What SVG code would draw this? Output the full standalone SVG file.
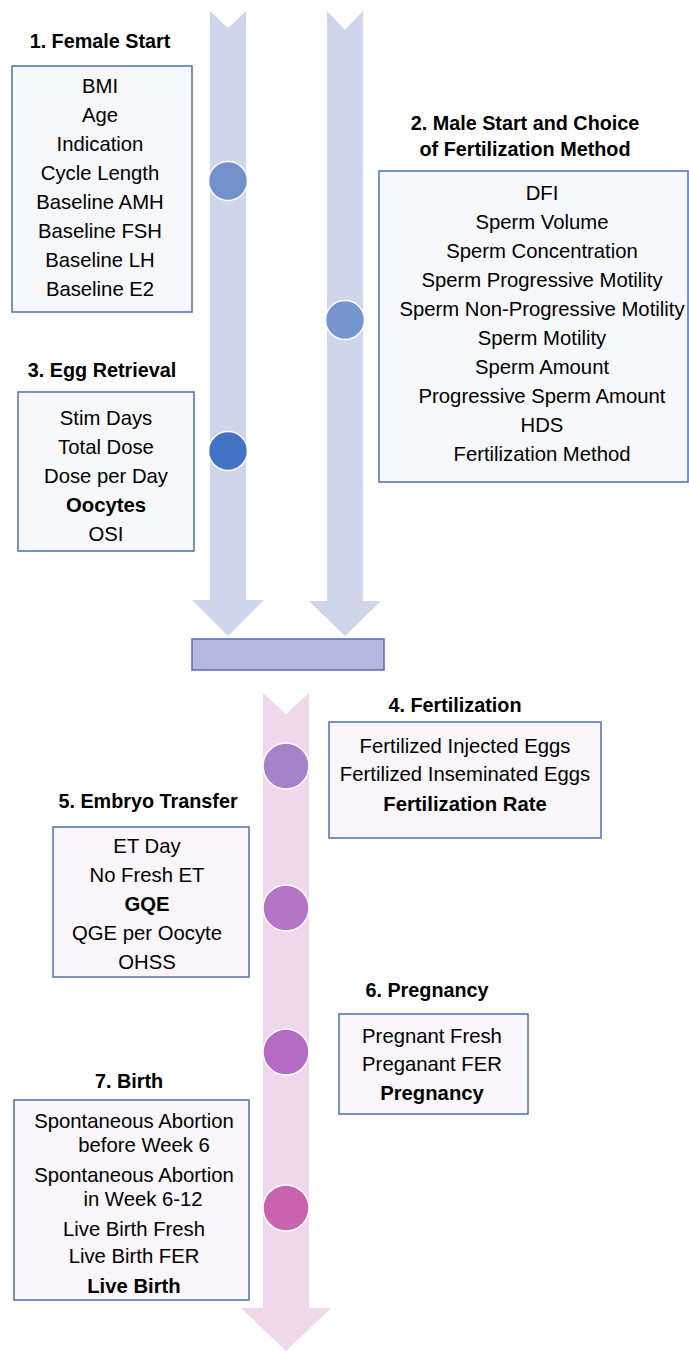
<svg xmlns="http://www.w3.org/2000/svg" width="689" height="1351" viewBox="0 0 689 1351">
<style>
.t{font-family:"Liberation Sans",Arial,sans-serif;font-size:20.3px;fill:#000;text-anchor:middle}
.b{font-weight:bold}
.h{font-family:"Liberation Sans",Arial,sans-serif;font-size:19.8px;font-weight:bold;fill:#000;text-anchor:middle}
.boxb{fill:#f6f8fc;stroke:#4f6fad;stroke-width:1.5}
.boxp{fill:#faf6fb;stroke:#4f6fad;stroke-width:1.5}
.dot{stroke:#fff;stroke-width:1.5}
.ab{fill:#cfd5ea}
.ap{fill:#f0d8ec}
</style>
<g id="connectors">
<path class="ab" d="M210,11 L228,28 L246,11 L246,600 L264,600 L228,636 L192,600 L210,600 Z"/>
<path class="ab" d="M327,11 L345,30 L363,11 L363,601 L381,601 L345,636 L309,601 L327,601 Z"/>
<rect x="192" y="639" width="192" height="31" fill="#b4b7df" stroke="#5a6cb0" stroke-width="1.5"/>
<path class="ap" d="M263,693 L286,714 L309,693 L309,1308 L331,1308 L286,1351 L241,1308 L263,1308 Z"/>
</g>
<g id="dots">
<circle class="dot" cx="228" cy="181" r="19.5" fill="#7290cc"/>
<circle class="dot" cx="345" cy="320" r="19.5" fill="#7595cc"/>
<circle class="dot" cx="228" cy="451" r="19.5" fill="#4472c4"/>
<circle class="dot" cx="286" cy="766" r="23" fill="#a683c9"/>
<circle class="dot" cx="286" cy="908" r="23" fill="#b574c6"/>
<circle class="dot" cx="286" cy="1052" r="23" fill="#b36cc2"/>
<circle class="dot" cx="286" cy="1208" r="23" fill="#c963b0"/>
</g>
<g id="female-start">
<text class="h" x="100" y="48">1. Female Start</text>
<rect class="boxb" x="12" y="66" width="180" height="246"/>
<text class="t" x="100" y="93">BMI</text>
<text class="t" x="100" y="122">Age</text>
<text class="t" x="100" y="151">Indication</text>
<text class="t" x="100" y="180">Cycle Length</text>
<text class="t" x="100" y="209">Baseline AMH</text>
<text class="t" x="100" y="238">Baseline FSH</text>
<text class="t" x="100" y="267">Baseline LH</text>
<text class="t" x="100" y="296">Baseline E2</text>
</g>
<g id="male-start">
<text class="h" x="525" y="130">2. Male Start and Choice</text>
<text class="h" x="525" y="156">of Fertilization Method</text>
<rect class="boxb" x="379" y="171" width="309" height="311"/>
<text class="t" x="542" y="200">DFI</text>
<text class="t" x="542" y="229">Sperm Volume</text>
<text class="t" x="542" y="258">Sperm Concentration</text>
<text class="t" x="542" y="287">Sperm Progressive Motility</text>
<text class="t" x="542" y="316">Sperm Non-Progressive Motility</text>
<text class="t" x="542" y="345">Sperm Motility</text>
<text class="t" x="542" y="374">Sperm Amount</text>
<text class="t" x="542" y="403">Progressive Sperm Amount</text>
<text class="t" x="542" y="432">HDS</text>
<text class="t" x="542" y="461">Fertilization Method</text>
</g>
<g id="egg-retrieval">
<text class="h" x="102" y="377">3. Egg Retrieval</text>
<rect class="boxb" x="18" y="392" width="176" height="159"/>
<text class="t" x="106" y="425">Stim Days</text>
<text class="t" x="106" y="454">Total Dose</text>
<text class="t" x="106" y="483">Dose per Day</text>
<text class="t b" x="106" y="512">Oocytes</text>
<text class="t" x="106" y="541">OSI</text>
</g>
<g id="fertilization">
<text class="h" x="455" y="712">4. Fertilization</text>
<rect class="boxp" x="329" y="722" width="272" height="116"/>
<text class="t" x="465" y="753">Fertilized Injected Eggs</text>
<text class="t" x="465" y="781">Fertilized Inseminated Eggs</text>
<text class="t b" x="465" y="811">Fertilization Rate</text>
</g>
<g id="embryo-transfer">
<text class="h" x="148" y="808">5. Embryo Transfer</text>
<rect class="boxp" x="53" y="827" width="196" height="150"/>
<text class="t" x="147" y="853">ET Day</text>
<text class="t" x="147" y="882">No Fresh ET</text>
<text class="t b" x="147" y="911">GQE</text>
<text class="t" x="147" y="940">QGE per Oocyte</text>
<text class="t" x="147" y="969">OHSS</text>
</g>
<g id="pregnancy">
<text class="h" x="427" y="997">6. Pregnancy</text>
<rect class="boxp" x="339" y="1014" width="189" height="100"/>
<text class="t" x="432" y="1043">Pregnant Fresh</text>
<text class="t" x="432" y="1071">Preganant FER</text>
<text class="t b" x="432" y="1100">Pregnancy</text>
</g>
<g id="birth">
<text class="h" x="129" y="1088">7. Birth</text>
<rect class="boxp" x="14" y="1100" width="235" height="200"/>
<text class="t" x="134" y="1128">Spontaneous Abortion</text>
<text class="t" x="144" y="1152">before Week 6</text>
<text class="t" x="134" y="1182">Spontaneous Abortion</text>
<text class="t" x="143" y="1206">in Week 6-12</text>
<text class="t" x="134" y="1236">Live Birth Fresh</text>
<text class="t" x="134" y="1263">Live Birth FER</text>
<text class="t b" x="134" y="1293">Live Birth</text>
</g>
</svg>
